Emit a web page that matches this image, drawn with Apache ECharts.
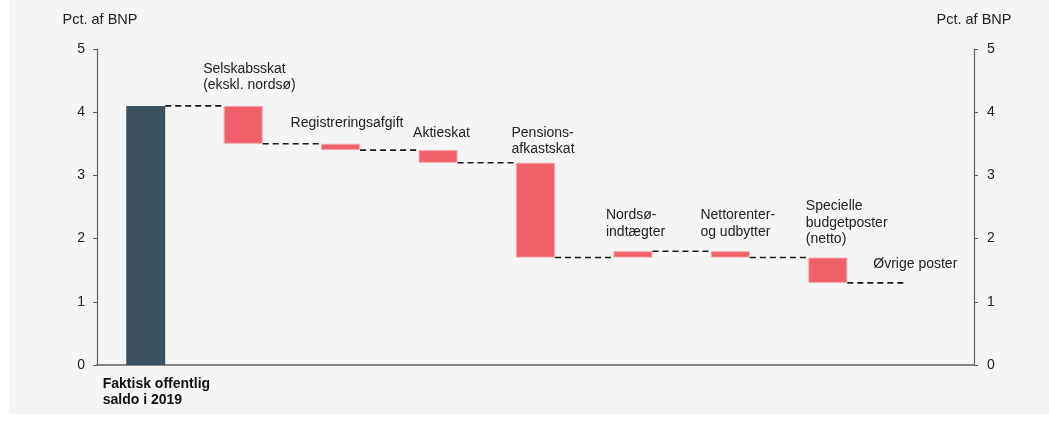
<!DOCTYPE html>
<html>
<head>
<meta charset="utf-8">
<script src="https://cdn.jsdelivr.net/npm/echarts@6/dist/echarts.min.js"></script>
<style>
html,body{margin:0;padding:0;background:#ffffff;}
#chart{width:1049px;height:425px;}
</style>
</head>
<body>
<div id="chart"></div>
<script>
// ---- data ----
const categories = ['Faktisk offentlig saldo i 2019', 'Selskabsskat (ekskl. nordsø)', 'Registreringsafgift', 'Aktieskat', 'Pensionsafkastskat', 'Nordsøindtægter', 'Nettorenter og udbytter', 'Specielle budgetposter (netto)', 'Øvrige poster'];
const labelLines = [
  ['Faktisk offentlig', 'saldo i 2019'],
  ['Selskabsskat', '(ekskl. nordsø)'],
  ['Registreringsafgift'],
  ['Aktieskat'],
  ['Pensions-', 'afkastskat'],
  ['Nordsø-', 'indtægter'],
  ['Nettorenter-', 'og udbytter'],
  ['Specielle', 'budgetposter', '(netto)'],
  ['Øvrige poster']
];
const startValue = 4.1;
const changes = [-0.6, -0.1, -0.2, -1.5, 0.1, -0.1, -0.4, 0];
const yTicks = [0, 1, 2, 3, 4, 5];
const axisName = 'Pct. af BNP';

// ---- layout (label offsets from bar centre, px) ----
const labelDx = [-43, -40, -50, -25, -24, -27, -30, -22, -52];
const labelDy = [11, -20, -20, -17, -13, -19, -19, -18, -18];

// ---- derived waterfall levels ----
const levels = [startValue];
changes.forEach(c => levels.push(+(levels[levels.length - 1] + c).toFixed(4)));
const baseData = [0];
const heightData = [startValue];
changes.forEach((c, k) => {
  const before = levels[k], after = levels[k + 1];
  baseData.push(Math.min(before, after));
  heightData.push(Math.abs(c));
});
const topLevels = categories.map((_, i) => i === 0 ? 0 : Math.max(levels[i - 1], levels[i]));

const FONT = '"Liberation Sans", Arial, Helvetica, sans-serif';
const DARK = '#3c5261';
const RED = '#f0606b';
const AXIS = '#606060';

const chart = echarts.init(document.getElementById('chart'), null, {renderer: 'canvas'});

const yAxisCommon = {
  type: 'value', min: yTicks[0], max: yTicks[yTicks.length - 1], interval: 1,
  name: axisName, nameLocation: 'end', nameGap: 22,
  nameTextStyle: {color: '#222', fontSize: 14.5, fontFamily: FONT, align: 'center'},
  axisLine: {show: true, lineStyle: {color: AXIS, width: 1.2}},
  axisTick: {show: true, inside: false, length: 4, lineStyle: {color: AXIS}},
  splitLine: {show: false},
  axisLabel: {color: '#222', fontSize: 14, fontFamily: FONT, margin: 12}
};

chart.setOption({
  animation: false,
  backgroundColor: '#ffffff',
  graphic: [{type: 'rect', left: 9, top: 0, z: -10, shape: {width: 1040, height: 414}, style: {fill: '#f5f5f5'}}],
  grid: {left: 97, right: 75, top: 49, bottom: 60, containLabel: false},
  xAxis: {
    type: 'category', data: categories,
    axisLine: {show: true, onZero: false, lineStyle: {color: AXIS, width: 1.5}},
    axisTick: {show: false}, axisLabel: {show: false}, splitLine: {show: false}
  },
  yAxis: [
    Object.assign({}, yAxisCommon, {position: 'left',
      nameTextStyle: Object.assign({}, yAxisCommon.nameTextStyle, {padding: [0, 0, 0, 6]})}),
    Object.assign({}, yAxisCommon, {position: 'right', axisLabel: Object.assign({}, yAxisCommon.axisLabel, {margin: 13})})
  ],
  series: [
    {
      type: 'bar', stack: 'wf', barWidth: '40%', silent: true,
      itemStyle: {color: 'transparent'},
      data: baseData
    },
    {
      type: 'bar', stack: 'wf', barWidth: '40%', silent: true,
      data: heightData.map((v, i) => ({
        value: v,
        itemStyle: i === 0 ? {color: DARK} : {color: RED, borderColor: '#f5a3a9', borderWidth: v > 0 ? 1 : 0}
      }))
    },
    {
      type: 'custom', silent: true, clip: false, z: 5,
      data: levels.slice(0, categories.length - 1).map((lv, i) => [i, lv]),
      renderItem: function (params, api) {
        const i = api.value(0);
        const lv = api.value(1);
        const p1 = api.coord([i, lv]);
        const p2 = api.coord([i + 1, lv]);
        const half = api.size([1, 0])[0] * 0.2;
        return {
          type: 'line',
          shape: {x1: p1[0] + half, y1: p1[1], x2: p2[0] - half, y2: p2[1]},
          style: {stroke: '#1a1a1a', lineWidth: 1.6, lineDash: [6, 4]}
        };
      }
    },
    {
      type: 'custom', silent: true, clip: false, z: 6,
      data: topLevels.map((lv, i) => [i, lv]),
      renderItem: function (params, api) {
        const i = api.value(0);
        const lv = api.value(1);
        const p = api.coord([i, lv]);
        const lines = labelLines[i];
        if (i === 0) {
          return {
            type: 'text',
            style: {
              text: lines.join('\n'), x: p[0] + labelDx[i], y: p[1] + labelDy[i],
              fill: '#111', font: 'bold 14px ' + FONT, align: 'left', verticalAlign: 'top', lineHeight: 16
            }
          };
        }
        return {
          type: 'text',
          style: {
            text: lines.join('\n'), x: p[0] + labelDx[i], y: p[1] + labelDy[i] + 8,
            fill: '#222', font: '14px ' + FONT, align: 'left', verticalAlign: 'bottom', lineHeight: 16.5
          }
        };
      }
    }
  ]
});
</script>
</body>
</html>
